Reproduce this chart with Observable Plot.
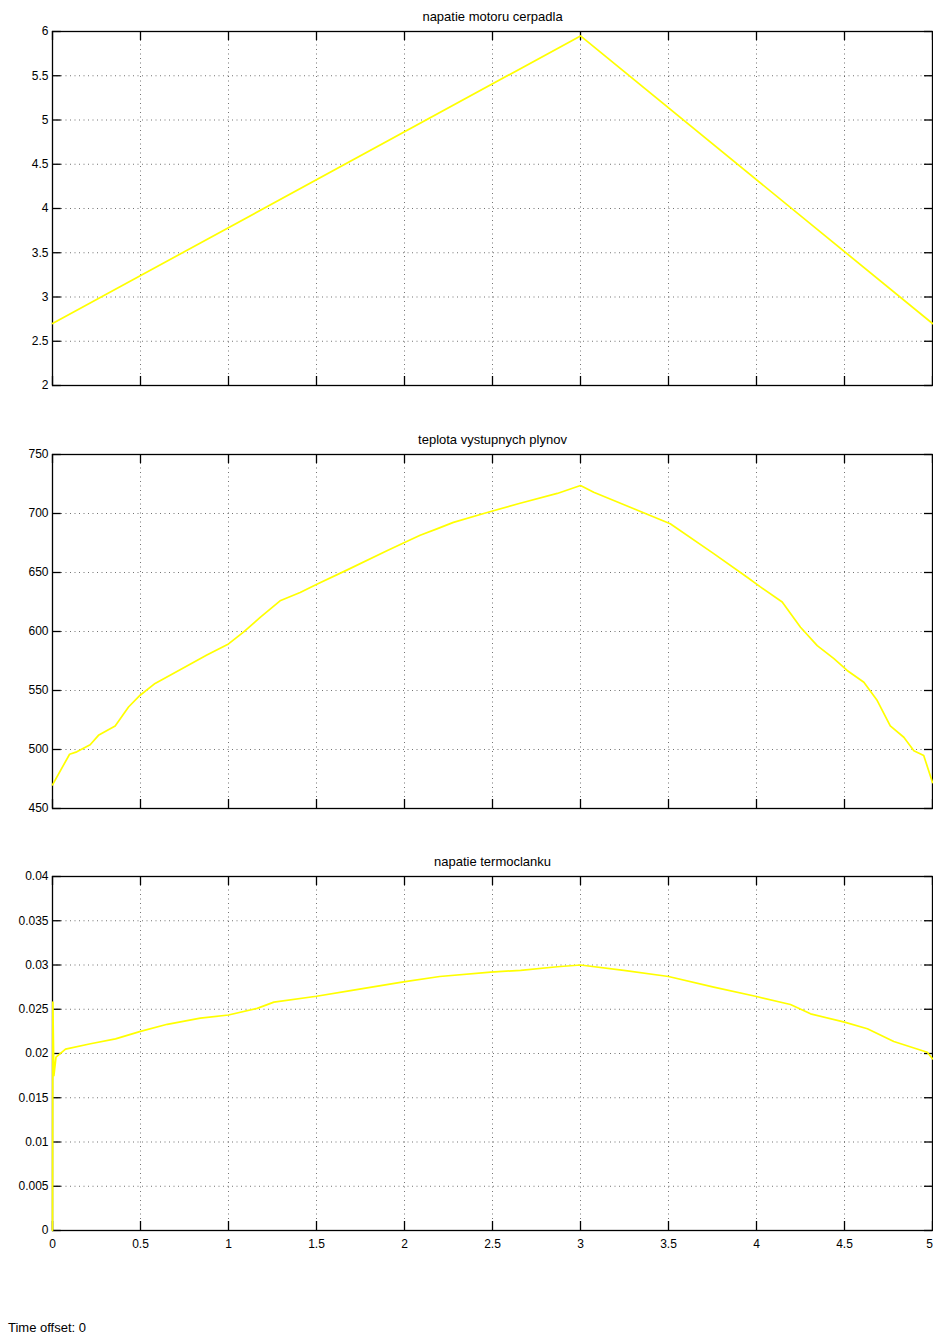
<!DOCTYPE html>
<html>
<head>
<meta charset="utf-8">
<script src="https://cdn.jsdelivr.net/npm/d3@7"></script>
<script src="https://cdn.jsdelivr.net/npm/@observablehq/plot@0.6"></script>
<style>
  html, body { margin: 0; padding: 0; background: #fff; }
  #wrap { position: relative; width: 933px; height: 1337px; overflow: hidden; font-family: "Liberation Sans", Arial, sans-serif; }
  #wrap svg { position: absolute; left: 0; }
  #offset { position: absolute; left: 8px; top: 1320px; font-size: 13px; color: #000; }
</style>
</head>
<body>
<div id="wrap"><div id="offset">Time offset: 0</div></div>
<script>
// ---- data ----
const titles = ["napatie motoru cerpadla", "teplota vystupnych plynov", "napatie termoclanku"];

const xTicks = [0, 0.5, 1, 1.5, 2, 2.5, 3, 3.5, 4, 4.5, 5];
const xTickLabels = ["0", "0.5", "1", "1.5", "2", "2.5", "3", "3.5", "4", "4.5", "5"];

// panel 1: pump motor voltage
const t1 = [0, 3, 5];
const v1 = [2.7, 5.95, 2.7];
const y1Ticks = [2, 2.5, 3, 3.5, 4, 4.5, 5, 5.5, 6];
const y1TickLabels = ["2", "2.5", "3", "3.5", "4", "4.5", "5", "5.5", "6"];

// panel 2: exhaust gas temperature
const t2 = [0, 0.097, 0.138, 0.214, 0.261, 0.356, 0.432, 0.498, 0.583, 0.725, 0.877, 1.0, 1.085, 1.18, 1.293, 1.407, 1.502, 1.672, 1.9, 1.994, 2.089, 2.184, 2.278, 2.45, 2.657, 2.868, 3.0, 3.075, 3.303, 3.51, 3.757, 3.947, 4.02, 4.146, 4.25, 4.345, 4.44, 4.515, 4.61, 4.686, 4.76, 4.837, 4.894, 4.95, 5.0];
const v2 = [470, 496, 498, 504, 512, 520, 536, 546, 556, 567.5, 580, 589.5, 599.5, 612, 626, 633, 640, 652, 668.5, 675, 681.5, 687, 692.5, 700, 708.7, 717, 723.7, 718, 704, 691.3, 666, 646, 638, 625, 603.6, 588, 577, 567, 557, 541.5, 520, 510.4, 499, 495, 472];
const y2Ticks = [450, 500, 550, 600, 650, 700, 750];
const y2TickLabels = ["450", "500", "550", "600", "650", "700", "750"];

// panel 3: thermocouple voltage
const t3 = [0, 0.002, 0.008, 0.02, 0.074, 0.216, 0.358, 0.5, 0.652, 0.84, 1.0, 1.163, 1.258, 1.5, 1.693, 1.994, 2.2, 2.49, 2.66, 2.868, 3.0, 3.246, 3.5, 3.757, 4.0, 4.193, 4.307, 4.5, 4.63, 4.78, 4.97, 5.0];
const v3 = [0, 0.0258, 0.0175, 0.0196, 0.0205, 0.0211, 0.02165, 0.0225, 0.0233, 0.024, 0.02435, 0.0251, 0.0258, 0.02647, 0.0271, 0.0281, 0.0287, 0.0292, 0.0294, 0.0298, 0.0300, 0.0294, 0.0287, 0.0275, 0.02644, 0.02554, 0.02448, 0.02354, 0.0228, 0.02135, 0.02014, 0.0194];
const y3Ticks = [0, 0.005, 0.01, 0.015, 0.02, 0.025, 0.03, 0.035, 0.04];
const y3TickLabels = ["0", "0.005", "0.01", "0.015", "0.02", "0.025", "0.03", "0.035", "0.04"];

// ---- drawing ----
const panels = [
  {title: titles[0], t: t1, v: v1, yTicks: y1Ticks, yLabels: y1TickLabels, showX: false, frameTop: 31},
  {title: titles[1], t: t2, v: v2, yTicks: y2Ticks, yLabels: y2TickLabels, showX: false, frameTop: 454},
  {title: titles[2], t: t3, v: v3, yTicks: y3Ticks, yLabels: y3TickLabels, showX: true, frameTop: 876}
];

const W = 933, ML = 52, MR = 1, MT = 25, MB = 32, PH = 354, TICK = 8;
const wrap = document.getElementById("wrap");
const xLabelMap = new Map(xTicks.map((d, i) => [d, xTickLabels[i]]));

for (const p of panels) {
  const data = p.t.map((d, i) => ({t: d, v: p.v[i]}));
  const yMin = p.yTicks[0], yMax = p.yTicks[p.yTicks.length - 1];
  const yLabelMap = new Map(p.yTicks.map((d, i) => [d, p.yLabels[i]]));
  const dx = (xTicks[xTicks.length - 1] - xTicks[0]) * TICK / (W - ML - MR);
  const dy = (yMax - yMin) * (TICK + 1) / PH;
  const gridStyle = {stroke: "#000", strokeOpacity: 0.55, strokeDasharray: "1,3.5", strokeWidth: 1};
  const svg = Plot.plot({
    width: W,
    height: PH + MT + MB,
    marginLeft: ML, marginRight: MR, marginTop: MT, marginBottom: MB,
    style: {fontFamily: "'Liberation Sans', Arial, sans-serif", fontSize: "12px", color: "#000", background: "transparent", overflow: "visible"},
    x: {domain: [0, 5], ticks: xTicks, tickFormat: d => xLabelMap.get(d), tickSize: 0, tickPadding: 9, label: null, axis: p.showX ? "bottom" : null},
    y: {domain: [yMin, yMax], ticks: p.yTicks, tickFormat: d => yLabelMap.get(d), tickSize: 0, tickPadding: 4, label: null},
    marks: [
      Plot.ruleX(xTicks, {x: d => d, ...gridStyle}),
      Plot.ruleY(p.yTicks, {y: d => d, ...gridStyle}),
      Plot.ruleY(p.yTicks, {y: d => d, x1: 0, x2: dx * 1.1, stroke: "#000", strokeWidth: 1.3}),
      Plot.ruleY(p.yTicks, {y: d => d, x1: 5 - dx, x2: 5, stroke: "#000", strokeWidth: 1.3}),
      Plot.ruleX(xTicks, {x: d => d, y1: yMin, y2: yMin + dy, stroke: "#000", strokeWidth: 1.3}),
      Plot.ruleX(xTicks, {x: d => d, y1: yMax - dy, y2: yMax, stroke: "#000", strokeWidth: 1.3}),
      Plot.frame({stroke: "#000", strokeWidth: 1.3}),
      Plot.line(data, {x: "t", y: "v", stroke: "#ffff00", strokeWidth: 1.7}),
      Plot.text([p.title], {frameAnchor: "top", dy: -15, lineAnchor: "middle", fontSize: 13, fill: "#000"})
    ]
  });
  svg.style.top = (p.frameTop - MT) + "px";
  if (p.showX) {
    // keep the last tick label inside the page edge
    const labels = Array.from(svg.querySelectorAll("text")).filter(t => t.textContent === xTickLabels[xTickLabels.length - 1]);
    const last = labels.find(t => {
      const g = t.closest("g[aria-label*='x-axis']") || t.closest("g");
      return g && /x-axis/.test(g.getAttribute("aria-label") || "") || (t.parentNode && /x-axis/.test((t.parentNode.getAttribute && t.parentNode.getAttribute("aria-label")) || ""));
    });
    if (last) last.setAttribute("dx", "-3");
  }
  wrap.appendChild(svg);
}
</script>
</body>
</html>
